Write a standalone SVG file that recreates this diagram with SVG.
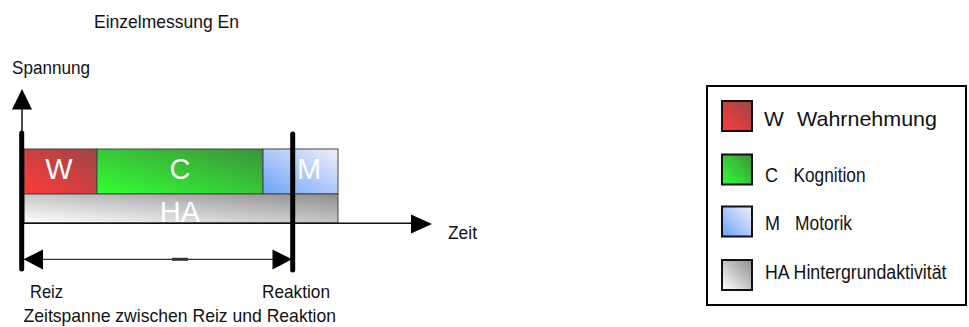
<svg xmlns="http://www.w3.org/2000/svg" width="969" height="327" viewBox="0 0 969 327">
  <style>
    .t { font-family: "Liberation Sans", Arial, sans-serif; fill: #111; }
    .m { font-size: 19px; }
    .lg { font-size: 20px; }
    .bl { font-family: "Liberation Sans", Arial, sans-serif; font-size: 29px; fill: #fff; text-anchor: middle; }
    .bar { stroke: #444; stroke-width: 1; }
    .sw { stroke: #111; stroke-width: 2; }
    .ax { stroke: #111; stroke-width: 1.5; fill: none; }
    .thick { stroke: #000; stroke-width: 5; stroke-linecap: round; }
    .head { fill: #000; }
  </style>
  <defs>
    <linearGradient id="gR" x1="0" y1="1" x2="1" y2="0">
      <stop offset="0" stop-color="#ff3a3a"/>
      <stop offset="1" stop-color="#9c4646"/>
    </linearGradient>
    <linearGradient id="gG" x1="0" y1="1" x2="1" y2="0">
      <stop offset="0" stop-color="#33ff33"/>
      <stop offset="1" stop-color="#3c923c"/>
    </linearGradient>
    <linearGradient id="gB" x1="0" y1="1" x2="1" y2="0">
      <stop offset="0" stop-color="#6aa2f8"/>
      <stop offset="1" stop-color="#f2f0f8"/>
    </linearGradient>
    <linearGradient id="gH" x1="0" y1="1" x2="1" y2="0">
      <stop offset="0" stop-color="#ffffff"/>
      <stop offset="1" stop-color="#8e8e8e"/>
    </linearGradient>
  </defs>

  <text class="t m" x="94" y="28.3" textLength="145" lengthAdjust="spacingAndGlyphs">Einzelmessung En</text>
  <text class="t m" x="12" y="74" textLength="78" lengthAdjust="spacingAndGlyphs">Spannung</text>

  <g id="bars">
    <g id="W">
      <rect class="bar" x="24" y="149" width="73" height="45" fill="url(#gR)"/>
      <text class="bl" x="59" y="179">W</text>
    </g>
    <g id="C">
      <rect class="bar" x="97" y="149" width="166" height="45" fill="url(#gG)"/>
      <text class="bl" x="180" y="179">C</text>
    </g>
    <g id="M">
      <rect class="bar" x="263" y="149" width="75" height="45" fill="url(#gB)"/>
      <text class="bl" x="309" y="179">M</text>
    </g>
    <g id="HA">
      <rect class="bar" x="24" y="194" width="314" height="29" fill="url(#gH)"/>
      <text class="bl" x="180" y="222">HA</text>
    </g>
  </g>

  <g id="connectors">
    <line class="ax" x1="22" y1="132" x2="22" y2="108"/>
    <polygon class="head" points="22,89 12,109.5 32,109.5"/>
    <line class="ax" x1="24" y1="223.3" x2="412" y2="223.3"/>
    <polygon class="head" points="432,224 411,214.5 411,233.5"/>
    <line class="thick" x1="21.7" y1="133" x2="21.7" y2="269"/>
    <line class="thick" x1="292.7" y1="134" x2="292.7" y2="270"/>
    <line stroke="#333" stroke-width="1.3" x1="40" y1="259.3" x2="275" y2="259.3"/>
    <line stroke="#333" stroke-width="3" x1="172" y1="259.3" x2="188" y2="259.3"/>
    <polygon class="head" points="23.5,259.3 43,249.5 43,269.5"/>
    <polygon class="head" points="292,259.3 272.5,249.5 272.5,269.5"/>
  </g>

  <text class="t m" x="448" y="239" textLength="29" lengthAdjust="spacingAndGlyphs">Zeit</text>
  <text class="t m" x="30" y="298" textLength="33" lengthAdjust="spacingAndGlyphs">Reiz</text>
  <text class="t m" x="262" y="298" textLength="68" lengthAdjust="spacingAndGlyphs">Reaktion</text>
  <text class="t m" x="23.5" y="322" textLength="312.5" lengthAdjust="spacingAndGlyphs">Zeitspanne zwischen Reiz und Reaktion</text>

  <g id="legend">
    <rect x="707" y="86" width="259" height="219" fill="#fff" stroke="#000" stroke-width="2"/>
    <g id="leg-W">
      <rect class="sw" x="722" y="101" width="30" height="30" fill="url(#gR)"/>
      <text class="t" style="font-size:21px" y="125.5"><tspan x="764">W</tspan><tspan x="797" textLength="140" lengthAdjust="spacingAndGlyphs">Wahrnehmung</tspan></text>
    </g>
    <g id="leg-C">
      <rect class="sw" x="722" y="154.5" width="30" height="30" fill="url(#gG)"/>
      <text class="t lg" y="181.5"><tspan x="765" textLength="13" lengthAdjust="spacingAndGlyphs">C</tspan><tspan x="793.5" textLength="72" lengthAdjust="spacingAndGlyphs">Kognition</tspan></text>
    </g>
    <g id="leg-M">
      <rect class="sw" x="722" y="206.5" width="30" height="30" fill="url(#gB)"/>
      <text class="t lg" y="230"><tspan x="765" textLength="15" lengthAdjust="spacingAndGlyphs">M</tspan><tspan x="795" textLength="57" lengthAdjust="spacingAndGlyphs">Motorik</tspan></text>
    </g>
    <g id="leg-HA">
      <rect class="sw" x="722" y="260" width="30" height="30" fill="url(#gH)"/>
      <text class="t lg" x="765" y="278.5" textLength="181.5" lengthAdjust="spacingAndGlyphs">HA Hintergrundaktivität</text>
    </g>
  </g>
</svg>
